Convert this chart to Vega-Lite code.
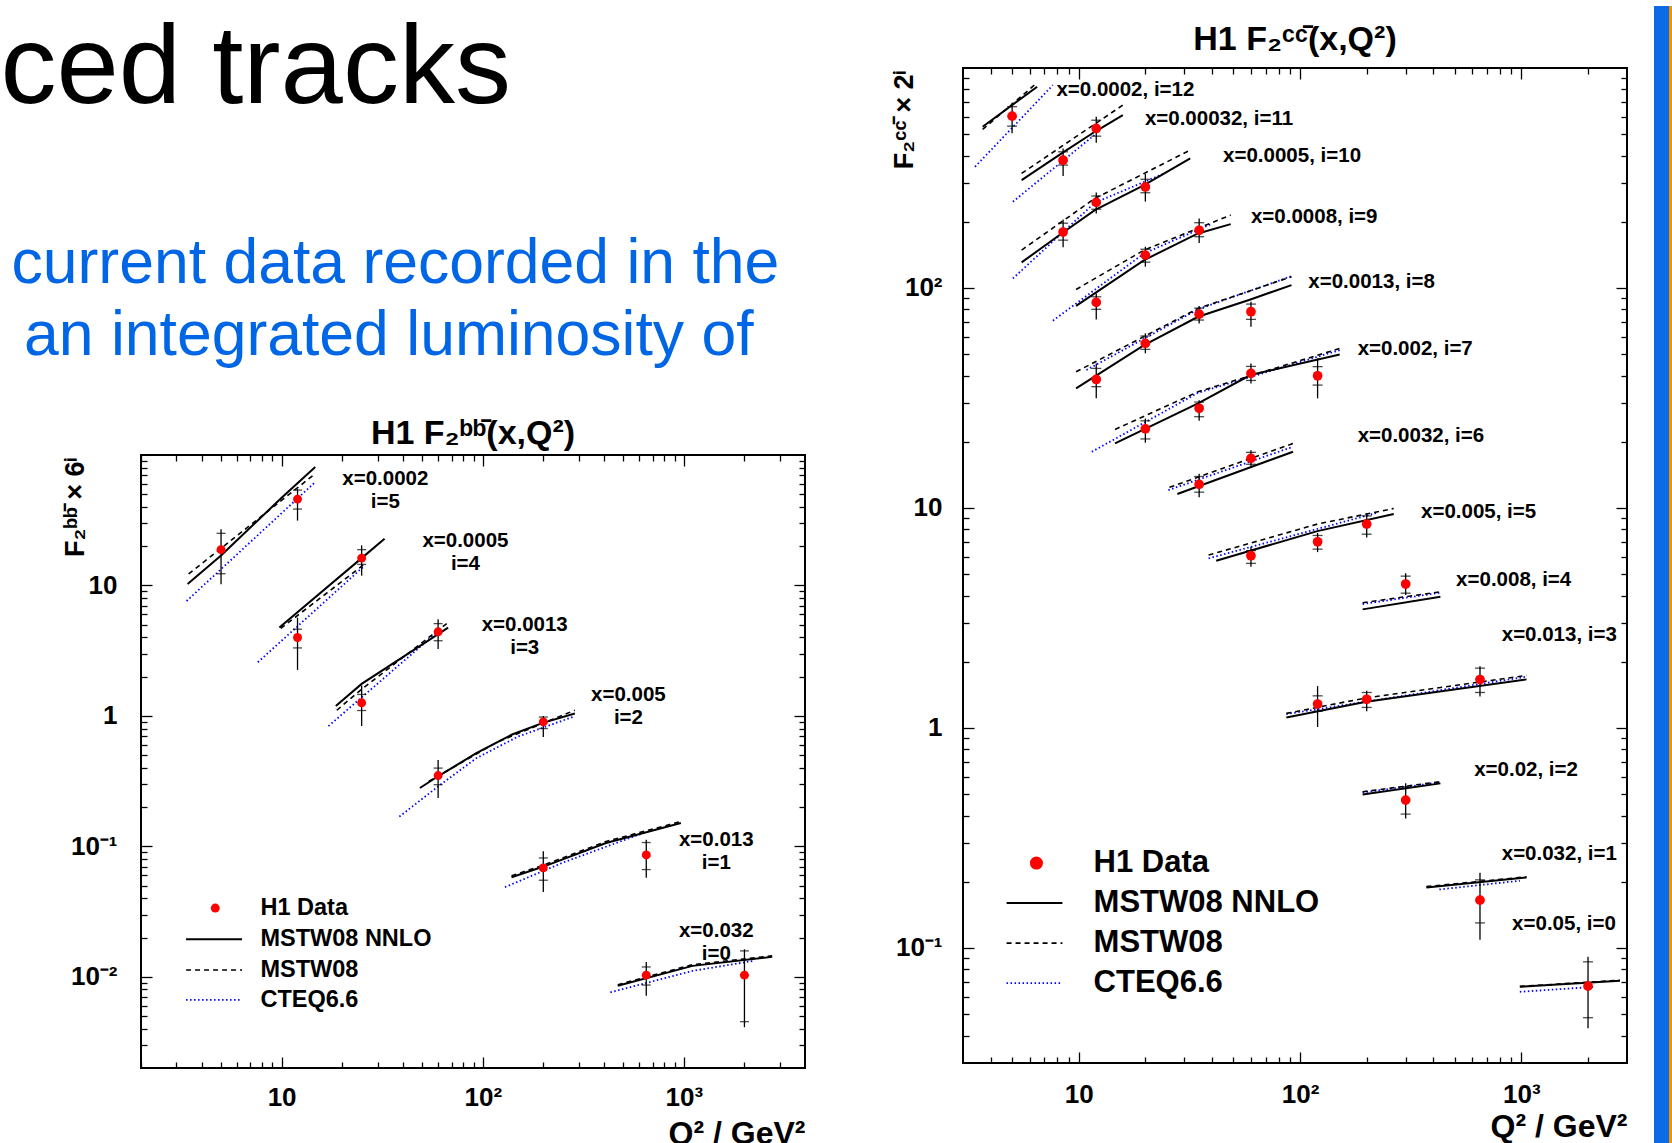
{
"$schema": "https://vega.github.io/schema/vega-lite/v6.json",
"padding": 0,
"background": "white",
"spacing": 82,
"config": {
  "font": "Liberation Sans",
  "view": {"stroke": "black", "strokeWidth": 2},
  "axis": {"domain": false, "grid": false, "tickColor": "black", "tickWidth": 1.3, "labelColor": "black", "labelFont": "Liberation Sans", "labelFontWeight": "bold", "labelFontSize": 26, "titleFont": "Liberation Sans", "titleFontWeight": "bold", "titleColor": "black", "labelOverlap": false, "labelFlush": false},
  "title": {"font": "Liberation Sans", "fontWeight": "bold", "color": "black"}
},
"datasets": {
  "bbPts": [
    {"i":5,"q":5,"v":18.8,"lo":10.2,"hi":27,"slo":12.3,"shi":25.1},
    {"i":5,"q":12,"v":45.9,"lo":31.4,"hi":54.7,"slo":38.5,"shi":53.8},
    {"i":4,"q":12,"v":3.99,"lo":2.25,"hi":5.66,"slo":3.32,"shi":4.62},
    {"i":4,"q":25,"v":16.2,"lo":11.9,"hi":20.3,"slo":14.5,"shi":18.8},
    {"i":3,"q":25,"v":1.26,"lo":0.836,"hi":1.71,"slo":1.10,"shi":1.46},
    {"i":3,"q":60,"v":4.41,"lo":3.26,"hi":5.51,"slo":3.77,"shi":5.1},
    {"i":2,"q":60,"v":0.349,"lo":0.235,"hi":0.46,"slo":0.297,"shi":0.398},
    {"i":2,"q":200,"v":0.90,"lo":0.69,"hi":1.0,"slo":0.80,"shi":0.98},
    {"i":1,"q":200,"v":0.0684,"lo":0.0446,"hi":0.0916,"slo":0.055,"shi":0.0815},
    {"i":1,"q":650,"v":0.086,"lo":0.0574,"hi":0.1125,"slo":0.0664,"shi":0.107},
    {"i":0,"q":650,"v":0.0103,"lo":0.00716,"hi":0.013,"slo":0.00865,"shi":0.0119},
    {"i":0,"q":2000,"v":0.0103,"lo":0.00411,"hi":0.01625,"slo":0.00453,"shi":0.0158}
  ],
  "bbCurves": [
    {"i":5,"m":"N","q":3.41,"v":10.28},{"i":5,"m":"N","q":5,"v":17.0},{"i":5,"m":"N","q":10,"v":47},{"i":5,"m":"N","q":14.7,"v":80.9},
    {"i":5,"m":"M","q":3.45,"v":12.25},{"i":5,"m":"M","q":14.7,"v":71.9},
    {"i":5,"m":"C","q":3.37,"v":7.6},{"i":5,"m":"C","q":14.7,"v":62},
    {"i":4,"m":"N","q":9.75,"v":4.76},{"i":4,"m":"N","q":25,"v":16.2},{"i":4,"m":"N","q":32.5,"v":22.8},
    {"i":4,"m":"M","q":9.9,"v":4.68},{"i":4,"m":"M","q":26.2,"v":14.85},
    {"i":4,"m":"C","q":7.62,"v":2.58},{"i":4,"m":"C","q":25.6,"v":14.0},
    {"i":3,"m":"N","q":18.6,"v":1.19},{"i":3,"m":"N","q":25,"v":1.76},{"i":3,"m":"N","q":67.3,"v":4.75},
    {"i":3,"m":"M","q":18.8,"v":1.105},{"i":3,"m":"M","q":25,"v":1.6},{"i":3,"m":"M","q":68.2,"v":5.28},
    {"i":3,"m":"C","q":17.1,"v":0.836},{"i":3,"m":"C","q":61,"v":4.55},
    {"i":2,"m":"N","q":48.7,"v":0.28},{"i":2,"m":"N","q":59.7,"v":0.343},{"i":2,"m":"N","q":92.9,"v":0.518},{"i":2,"m":"N","q":140,"v":0.72},{"i":2,"m":"N","q":199,"v":0.885},{"i":2,"m":"N","q":287,"v":1.043},
    {"i":2,"m":"M","q":53.8,"v":0.315},{"i":2,"m":"M","q":119,"v":0.634},{"i":2,"m":"M","q":287,"v":1.105},
    {"i":2,"m":"C","q":38.5,"v":0.169},{"i":2,"m":"C","q":60,"v":0.288},{"i":2,"m":"C","q":92.9,"v":0.474},{"i":2,"m":"C","q":150,"v":0.695},{"i":2,"m":"C","q":287,"v":0.995},
    {"i":1,"m":"N","q":139,"v":0.058},{"i":1,"m":"N","q":199,"v":0.0697},{"i":1,"m":"N","q":410,"v":0.106},{"i":1,"m":"N","q":966,"v":0.151},
    {"i":1,"m":"M","q":139,"v":0.0595},{"i":1,"m":"M","q":199,"v":0.0715},{"i":1,"m":"M","q":410,"v":0.109},{"i":1,"m":"M","q":966,"v":0.155},
    {"i":1,"m":"C","q":129,"v":0.0487},{"i":1,"m":"C","q":250,"v":0.075},{"i":1,"m":"C","q":640,"v":0.128},
    {"i":0,"m":"N","q":469,"v":0.00853},{"i":0,"m":"N","q":1104,"v":0.01213},{"i":0,"m":"N","q":2748,"v":0.01422},
    {"i":0,"m":"M","q":469,"v":0.0087},{"i":0,"m":"M","q":1104,"v":0.0124},{"i":0,"m":"M","q":2748,"v":0.0145},
    {"i":0,"m":"C","q":431,"v":0.0076},{"i":0,"m":"C","q":1104,"v":0.0111},{"i":0,"m":"C","q":2208,"v":0.01324}
  ],
  "bbLab": [
    {"t":"x=0.0002\ni=5","q":32.8,"v":65.9},
    {"t":"x=0.0005\ni=4","q":82,"v":22.0},
    {"t":"x=0.0013\ni=3","q":161.7,"v":4.99},
    {"t":"x=0.005\ni=2","q":530,"v":1.44},
    {"t":"x=0.013\ni=1","q":1449,"v":0.1125},
    {"t":"x=0.032\ni=0","q":1449,"v":0.02244}
  ],
  "bbLeg": [
    {"t":"H1 Data","k":"D","v":0.03365},
    {"t":"MSTW08 NNLO","k":"N","v":0.01941},
    {"t":"MSTW08","k":"M","v":0.01127},
    {"t":"CTEQ6.6","k":"C","v":0.006653}
  ],
  "ccPts": [
    {"i":12,"q":5,"v":604,"lo":505,"hi":695,"slo":544,"shi":667},
    {"i":11,"q":8.5,"v":381,"lo":323,"hi":431,"slo":362,"shi":416},
    {"i":11,"q":12,"v":531,"lo":457,"hi":600,"slo":490,"shi":579},
    {"i":10,"q":8.5,"v":179.6,"lo":153,"hi":205,"slo":165,"shi":197},
    {"i":10,"q":12,"v":245,"lo":218,"hi":272,"slo":228,"shi":262},
    {"i":10,"q":20,"v":288,"lo":247,"hi":330,"slo":271,"shi":312},
    {"i":9,"q":12,"v":86,"lo":72,"hi":94.5,"slo":80,"shi":91.2},
    {"i":9,"q":20,"v":141,"lo":125,"hi":154,"slo":131,"shi":150},
    {"i":9,"q":35,"v":183,"lo":160,"hi":207,"slo":171,"shi":198},
    {"i":8,"q":12,"v":38.4,"lo":31.5,"hi":45.4,"slo":35.6,"shi":43.1},
    {"i":8,"q":20,"v":56,"lo":50.5,"hi":62.2,"slo":52.6,"shi":60.5},
    {"i":8,"q":35,"v":76,"lo":69,"hi":82.8,"slo":71.5,"shi":81},
    {"i":8,"q":60,"v":78,"lo":66.7,"hi":86.5,"slo":72,"shi":84.5},
    {"i":7,"q":20,"v":22.9,"lo":19.8,"hi":25.5,"slo":20.6,"shi":24.9},
    {"i":7,"q":35,"v":28.4,"lo":24.9,"hi":30.9,"slo":26,"shi":30.3},
    {"i":7,"q":60,"v":40.9,"lo":36.8,"hi":45.4,"slo":38,"shi":44},
    {"i":7,"q":120,"v":39.9,"lo":31.5,"hi":47.9,"slo":36.2,"shi":43.9},
    {"i":6,"q":35,"v":12.8,"lo":11.2,"hi":14.3,"slo":11.8,"shi":13.9},
    {"i":6,"q":60,"v":16.8,"lo":15.4,"hi":18.3,"slo":15.8,"shi":17.9},
    {"i":5,"q":60,"v":6.07,"lo":5.4,"hi":6.67,"slo":5.6,"shi":6.4},
    {"i":5,"q":120,"v":7.02,"lo":6.3,"hi":7.7,"slo":6.5,"shi":7.5},
    {"i":5,"q":200,"v":8.45,"lo":7.34,"hi":9.44,"slo":7.6,"shi":9.2},
    {"i":4,"q":300,"v":4.51,"lo":4.02,"hi":5.05,"slo":4.1,"shi":4.9},
    {"i":3,"q":120,"v":1.285,"lo":1.01,"hi":1.55,"slo":1.19,"shi":1.40},
    {"i":3,"q":200,"v":1.35,"lo":1.19,"hi":1.475,"slo":1.24,"shi":1.45},
    {"i":3,"q":650,"v":1.66,"lo":1.39,"hi":1.91,"slo":1.45,"shi":1.87},
    {"i":2,"q":300,"v":0.47,"lo":0.388,"hi":0.56,"slo":0.406,"shi":0.54},
    {"i":1,"q":650,"v":0.165,"lo":0.109,"hi":0.22,"slo":0.13,"shi":0.204},
    {"i":0,"q":2000,"v":0.0671,"lo":0.0432,"hi":0.0912,"slo":0.0482,"shi":0.0865}
  ],
  "ccCurves": [
    {"i":12,"m":"N","q":3.68,"v":540.7},{"i":12,"m":"N","q":6.49,"v":821.7},
    {"i":12,"m":"M","q":3.68,"v":525.6},{"i":12,"m":"M","q":6.49,"v":857},
    {"i":12,"m":"C","q":3.40,"v":355.6},{"i":12,"m":"C","q":7.64,"v":836},
    {"i":11,"m":"N","q":5.52,"v":309.4},{"i":11,"m":"N","q":8.37,"v":408.9},{"i":11,"m":"N","q":11.82,"v":513},{"i":11,"m":"N","q":15.82,"v":610.8},
    {"i":11,"m":"M","q":5.52,"v":331.7},{"i":11,"m":"M","q":15.82,"v":678},
    {"i":11,"m":"C","q":5.04,"v":246.6},{"i":11,"m":"C","q":11.76,"v":495.5},
    {"i":10,"m":"N","q":5.52,"v":130.7},{"i":10,"m":"N","q":8.37,"v":177},{"i":10,"m":"N","q":11.82,"v":225.9},{"i":10,"m":"N","q":19.74,"v":293.6},{"i":10,"m":"N","q":31.9,"v":388},
    {"i":10,"m":"M","q":5.52,"v":148.7},{"i":10,"m":"M","q":11.82,"v":255.3},{"i":10,"m":"M","q":31.9,"v":423.5},
    {"i":10,"m":"C","q":5.04,"v":110.5},{"i":10,"m":"C","q":11.82,"v":244},{"i":10,"m":"C","q":24.37,"v":331.7},
    {"i":9,"m":"N","q":9.73,"v":83.0},{"i":9,"m":"N","q":19.74,"v":133.9},{"i":9,"m":"N","q":34.6,"v":177},{"i":9,"m":"N","q":48.6,"v":195.2},
    {"i":9,"m":"M","q":9.73,"v":98.5},{"i":9,"m":"M","q":19.74,"v":148.7},{"i":9,"m":"M","q":48.6,"v":214.5},
    {"i":9,"m":"C","q":7.64,"v":71},{"i":9,"m":"C","q":19.74,"v":143.6},{"i":9,"m":"C","q":39.6,"v":195.2},
    {"i":8,"m":"N","q":9.73,"v":34.96},{"i":8,"m":"N","q":19.74,"v":55.0},{"i":8,"m":"N","q":34.6,"v":74},{"i":8,"m":"N","q":59.7,"v":88.7},{"i":8,"m":"N","q":91.5,"v":103.1},
    {"i":8,"m":"M","q":9.73,"v":41.6},{"i":8,"m":"M","q":34.6,"v":80.7},{"i":8,"m":"M","q":91.5,"v":112.5},
    {"i":8,"m":"C","q":10.84,"v":42.4},{"i":8,"m":"C","q":34.6,"v":80},{"i":8,"m":"C","q":91.5,"v":113.2},
    {"i":7,"m":"N","q":14.59,"v":19.66},{"i":7,"m":"N","q":34.6,"v":29.9},{"i":7,"m":"N","q":59.7,"v":40.2},{"i":7,"m":"N","q":151,"v":49.9},
    {"i":7,"m":"M","q":14.59,"v":22.76},{"i":7,"m":"M","q":34.6,"v":33.76},{"i":7,"m":"M","q":151,"v":53.1},
    {"i":7,"m":"C","q":11.45,"v":18.0},{"i":7,"m":"C","q":34.6,"v":33.4},{"i":7,"m":"C","q":151,"v":52.2},
    {"i":6,"m":"N","q":27.9,"v":11.57},{"i":6,"m":"N","q":92.96,"v":18.02},
    {"i":6,"m":"M","q":25.7,"v":12.41},{"i":6,"m":"M","q":92.96,"v":19.66},
    {"i":6,"m":"C","q":25.4,"v":12.06},{"i":6,"m":"C","q":92.96,"v":18.98},
    {"i":5,"m":"N","q":41.8,"v":5.76},{"i":5,"m":"N","q":119.8,"v":7.85},{"i":5,"m":"N","q":265,"v":9.38},
    {"i":5,"m":"M","q":38.6,"v":6.11},{"i":5,"m":"M","q":119.8,"v":8.45},{"i":5,"m":"M","q":265,"v":9.95},
    {"i":5,"m":"C","q":38.6,"v":5.9},{"i":5,"m":"C","q":223,"v":9.51},
    {"i":4,"m":"N","q":191.7,"v":3.46},{"i":4,"m":"N","q":430.7,"v":3.95},
    {"i":4,"m":"M","q":191.7,"v":3.71},{"i":4,"m":"M","q":430.7,"v":4.16},
    {"i":4,"m":"C","q":191.7,"v":3.66},{"i":4,"m":"C","q":430.7,"v":4.12},
    {"i":3,"m":"N","q":86.7,"v":1.117},{"i":3,"m":"N","q":199,"v":1.316},{"i":3,"m":"N","q":1055,"v":1.663},
    {"i":3,"m":"M","q":86.7,"v":1.165},{"i":3,"m":"M","q":199,"v":1.37},{"i":3,"m":"M","q":1055,"v":1.734},
    {"i":3,"m":"C","q":86.7,"v":1.157},{"i":3,"m":"C","q":1055,"v":1.71},
    {"i":2,"m":"N","q":191.7,"v":0.499},{"i":2,"m":"N","q":430.7,"v":0.56},
    {"i":2,"m":"M","q":191.7,"v":0.513},{"i":2,"m":"M","q":430.7,"v":0.57},
    {"i":2,"m":"C","q":191.7,"v":0.509},{"i":2,"m":"C","q":430.7,"v":0.566},
    {"i":1,"m":"N","q":372.3,"v":0.1885},{"i":1,"m":"N","q":1055,"v":0.2093},
    {"i":1,"m":"M","q":372.3,"v":0.19},{"i":1,"m":"M","q":1055,"v":0.2107},
    {"i":1,"m":"C","q":426,"v":0.1845},{"i":1,"m":"C","q":984,"v":0.2021},
    {"i":0,"m":"N","q":984,"v":0.0666},{"i":0,"m":"N","q":2790,"v":0.071},
    {"i":0,"m":"M","q":984,"v":0.0669},{"i":0,"m":"M","q":2790,"v":0.0713},
    {"i":0,"m":"C","q":984,"v":0.0632},{"i":0,"m":"C","q":2152,"v":0.0666}
  ],
  "ccLab": [
    {"t":"x=0.0002, i=12","q":7.93,"v":794},
    {"t":"x=0.00032, i=11","q":19.9,"v":584},
    {"t":"x=0.0005, i=10","q":44.9,"v":398},
    {"t":"x=0.0008, i=9","q":60,"v":211},
    {"t":"x=0.0013, i=8","q":109,"v":106},
    {"t":"x=0.002, i=7","q":182,"v":53},
    {"t":"x=0.0032, i=6","q":182,"v":21.2},
    {"t":"x=0.005, i=5","q":352,"v":9.55},
    {"t":"x=0.008, i=4","q":507,"v":4.73},
    {"t":"x=0.013, i=3","q":815,"v":2.66},
    {"t":"x=0.02, i=2","q":612,"v":0.644},
    {"t":"x=0.032, i=1","q":815,"v":0.267},
    {"t":"x=0.05, i=0","q":908,"v":0.128}
  ],
  "ccLeg": [
    {"t":"H1 Data","k":"D","v":0.2432},
    {"t":"MSTW08 NNLO","k":"N","v":0.16},
    {"t":"MSTW08","k":"M","v":0.1052},
    {"t":"CTEQ6.6","k":"C","v":0.0692}
  ]
},
"hconcat": [
  {
    "spacing": 30,
    "vconcat": [
      {
        "width": 664, "height": 380,
        "view": {"stroke": null},
        "data": {"values": [{}]},
        "mark": {"type": "text", "text": ""},
        "encoding": {
          "x": {"datum": 0.5, "type": "quantitative", "scale": {"domain": [0, 1]},
                "axis": {"orient": "top", "ticks": false, "labels": false, "domain": false, "grid": false,
                         "title": ["current data recorded in the", "\u200b\u2009an integrated luminosity of"],
                         "titleX": -130, "titleY": 276, "titleAlign": "left", "titleBaseline": "alphabetic", "titleAngle": 0,
                         "titleFont": "Liberation Sans", "titleFontWeight": "normal", "titleFontSize": 62.5, "titleColor": "#0066e6", "titleLineHeight": 72}},
          "y": {"datum": 0.5, "type": "quantitative", "scale": {"domain": [0, 1]},
                "axis": {"orient": "left", "ticks": false, "labels": false, "domain": false, "grid": false,
                         "title": "ced tracks",
                         "titleX": -141, "titleY": 96, "titleAlign": "left", "titleBaseline": "alphabetic", "titleAngle": 0,
                         "titleFont": "Liberation Sans", "titleFontWeight": "normal", "titleFontSize": 112, "titleColor": "black"}}
        }
      },
      {
        "width": 664, "height": 613,
        "title": {"text": "H1 F₂ᵇᵇ̄(x,Q²)", "fontSize": 34, "offset": 3},
        "resolve": {"axis": {"x": "independent", "y": "independent"}},
        "layer": [
          {"data": {"name": "bbCurves"}, "transform": [{"filter": "datum.m == 'C'"}],
           "mark": {"type": "line", "color": "#0000ff", "strokeWidth": 1.8, "strokeDash": [1.5, 2.5]},
           "encoding": {
             "x": {"field": "q", "type": "quantitative", "scale": {"type": "log", "domain": [2, 4000], "nice": false},
                   "axis": {"orient": "bottom", "values": [10, 100, 1000], "tickSize": -11, "labelPadding": 27, "labelExpr": "datum.value < 50 ? '10' : datum.value < 500 ? '10²' : '10³'", "title": "Q² / GeV²", "titleX": 664, "titleY": 75, "titleAlign": "right", "titleBaseline": "alphabetic", "titleAngle": 0, "titleFontSize": 32}},
             "y": {"field": "v", "type": "quantitative", "scale": {"type": "log", "domain": [0.002, 100], "nice": false},
                   "axis": {"orient": "left", "values": [0.01, 0.1, 1, 10], "tickSize": -11, "labelPadding": 35, "labelExpr": "datum.value < 0.05 ? '10⁻²' : datum.value < 0.5 ? '10⁻¹' : datum.value < 5 ? '1' : '10'", "title": "F₂ᵇᵇ̄ × 6ⁱ", "titleX": -66, "titleY": 1, "titleAngle": -90, "titleAlign": "right", "titleBaseline": "middle", "titleFontSize": 27}},
             "detail": {"field": "i", "type": "nominal"}}},
          {"data": {"name": "bbCurves"}, "transform": [{"filter": "datum.m == 'M'"}],
           "mark": {"type": "line", "color": "black", "strokeWidth": 1.6, "strokeDash": [5, 4]},
           "encoding": {
             "x": {"field": "q", "type": "quantitative", "scale": {"type": "log", "domain": [2, 4000], "nice": false},
                   "axis": {"orient": "bottom", "values": [2,3,4,5,6,7,8,9,20,30,40,50,60,70,80,90,200,300,400,500,600,700,800,900,2000,3000], "tickSize": -6, "labels": false, "title": null}},
             "y": {"field": "v", "type": "quantitative", "scale": {"type": "log", "domain": [0.002, 100], "nice": false},
                   "axis": {"orient": "left", "values": [0.003,0.004,0.005,0.006,0.007,0.008,0.009,0.02,0.03,0.04,0.05,0.06,0.07,0.08,0.09,0.2,0.3,0.4,0.5,0.6,0.7,0.8,0.9,2,3,4,5,6,7,8,9,20,30,40,50,60,70,80,90], "tickSize": -6, "labels": false, "title": null}},
             "detail": {"field": "i", "type": "nominal"}}},
          {"data": {"name": "bbCurves"}, "transform": [{"filter": "datum.m == 'N'"}],
           "mark": {"type": "line", "color": "black", "strokeWidth": 2},
           "encoding": {
             "x": {"field": "q", "type": "quantitative", "scale": {"type": "log", "domain": [2, 4000], "nice": false},
                   "axis": {"orient": "top", "values": [10, 100, 1000], "tickSize": -11, "labels": false, "title": null}},
             "y": {"field": "v", "type": "quantitative", "scale": {"type": "log", "domain": [0.002, 100], "nice": false},
                   "axis": {"orient": "right", "values": [0.01, 0.1, 1, 10], "tickSize": -11, "labels": false, "title": null}},
             "detail": {"field": "i", "type": "nominal"}}},
          {"data": {"name": "bbPts"},
           "mark": {"type": "rule", "color": "black", "strokeWidth": 1.3},
           "encoding": {
             "x": {"field": "q", "type": "quantitative", "scale": {"type": "log", "domain": [2, 4000], "nice": false},
                   "axis": {"orient": "top", "values": [2,3,4,5,6,7,8,9,20,30,40,50,60,70,80,90,200,300,400,500,600,700,800,900,2000,3000], "tickSize": -6, "labels": false, "title": null}},
             "y": {"field": "lo", "type": "quantitative", "scale": {"type": "log", "domain": [0.002, 100], "nice": false},
                   "axis": {"orient": "right", "values": [0.003,0.004,0.005,0.006,0.007,0.008,0.009,0.02,0.03,0.04,0.05,0.06,0.07,0.08,0.09,0.2,0.3,0.4,0.5,0.6,0.7,0.8,0.9,2,3,4,5,6,7,8,9,20,30,40,50,60,70,80,90], "tickSize": -6, "labels": false, "title": null}},
             "y2": {"field": "hi"}}},
          {"data": {"name": "bbPts"},
           "mark": {"type": "tick", "orient": "horizontal", "color": "black", "size": 9, "thickness": 1.3},
           "encoding": {
             "x": {"field": "q", "type": "quantitative", "scale": {"type": "log", "domain": [2, 4000], "nice": false}, "axis": null},
             "y": {"field": "slo", "type": "quantitative", "scale": {"type": "log", "domain": [0.002, 100], "nice": false}, "axis": null}}},
          {"data": {"name": "bbPts"},
           "mark": {"type": "tick", "orient": "horizontal", "color": "black", "size": 9, "thickness": 1.3},
           "encoding": {
             "x": {"field": "q", "type": "quantitative", "scale": {"type": "log", "domain": [2, 4000], "nice": false}, "axis": null},
             "y": {"field": "shi", "type": "quantitative", "scale": {"type": "log", "domain": [0.002, 100], "nice": false}, "axis": null}}},
          {"data": {"name": "bbPts"},
           "mark": {"type": "circle", "color": "#ff0000", "size": 80, "opacity": 1},
           "encoding": {
             "x": {"field": "q", "type": "quantitative", "scale": {"type": "log", "domain": [2, 4000], "nice": false}, "axis": null},
             "y": {"field": "v", "type": "quantitative", "scale": {"type": "log", "domain": [0.002, 100], "nice": false}, "axis": null}}},
          {"data": {"name": "bbLab"},
           "mark": {"type": "text", "font": "Liberation Sans", "fontWeight": "bold", "fontSize": 20.5, "align": "center", "baseline": "middle", "lineBreak": "\n", "lineHeight": 23, "color": "black"},
           "encoding": {
             "x": {"field": "q", "type": "quantitative", "scale": {"type": "log", "domain": [2, 4000], "nice": false}, "axis": null},
             "y": {"field": "v", "type": "quantitative", "scale": {"type": "log", "domain": [0.002, 100], "nice": false}, "axis": null},
             "text": {"field": "t"}}},
          {"data": {"name": "bbLeg"},
           "mark": {"type": "text", "font": "Liberation Sans", "fontWeight": "bold", "fontSize": 23.5, "align": "left", "baseline": "middle", "color": "black"},
           "encoding": {
             "x": {"datum": 7.85, "type": "quantitative", "scale": {"type": "log", "domain": [2, 4000], "nice": false}, "axis": null},
             "y": {"field": "v", "type": "quantitative", "scale": {"type": "log", "domain": [0.002, 100], "nice": false}, "axis": null},
             "text": {"field": "t"}}},
          {"data": {"name": "bbLeg"}, "transform": [{"filter": "datum.k == 'D'"}],
           "mark": {"type": "circle", "color": "#ff0000", "size": 80, "opacity": 1},
           "encoding": {
             "x": {"datum": 4.68, "type": "quantitative", "scale": {"type": "log", "domain": [2, 4000], "nice": false}, "axis": null},
             "y": {"field": "v", "type": "quantitative", "scale": {"type": "log", "domain": [0.002, 100], "nice": false}, "axis": null}}},
          {"data": {"name": "bbLeg"}, "transform": [{"filter": "datum.k == 'N'"}],
           "mark": {"type": "rule", "color": "black", "strokeWidth": 2},
           "encoding": {
             "x": {"datum": 3.35, "type": "quantitative", "scale": {"type": "log", "domain": [2, 4000], "nice": false}, "axis": null},
             "x2": {"datum": 6.36},
             "y": {"field": "v", "type": "quantitative", "scale": {"type": "log", "domain": [0.002, 100], "nice": false}, "axis": null}}},
          {"data": {"name": "bbLeg"}, "transform": [{"filter": "datum.k == 'M'"}],
           "mark": {"type": "rule", "color": "black", "strokeWidth": 1.6, "strokeDash": [5, 4]},
           "encoding": {
             "x": {"datum": 3.35, "type": "quantitative", "scale": {"type": "log", "domain": [2, 4000], "nice": false}, "axis": null},
             "x2": {"datum": 6.36},
             "y": {"field": "v", "type": "quantitative", "scale": {"type": "log", "domain": [0.002, 100], "nice": false}, "axis": null}}},
          {"data": {"name": "bbLeg"}, "transform": [{"filter": "datum.k == 'C'"}],
           "mark": {"type": "rule", "color": "#0000ff", "strokeWidth": 1.8, "strokeDash": [1.5, 2.5]},
           "encoding": {
             "x": {"datum": 3.35, "type": "quantitative", "scale": {"type": "log", "domain": [2, 4000], "nice": false}, "axis": null},
             "x2": {"datum": 6.36},
             "y": {"field": "v", "type": "quantitative", "scale": {"type": "log", "domain": [0.002, 100], "nice": false}, "axis": null}}}
        ]
      }
    ]
  },
  {
    "spacing": 25,
    "hconcat": [
      {
        "spacing": 10,
        "vconcat": [
          {"width": 664, "height": 1, "view": {"stroke": null}, "data": {"values": [{}]}, "mark": {"type": "text", "text": ""}},
          {
            "width": 664, "height": 995,
            "title": {"text": "H1 F₂ᶜᶜ̄(x,Q²)", "fontSize": 34, "offset": 10},
            "resolve": {"axis": {"x": "independent", "y": "independent"}},
            "layer": [
              {"data": {"name": "ccCurves"}, "transform": [{"filter": "datum.m == 'C'"}],
               "mark": {"type": "line", "color": "#0000ff", "strokeWidth": 1.8, "strokeDash": [1.5, 2.5]},
               "encoding": {
                 "x": {"field": "q", "type": "quantitative", "scale": {"type": "log", "domain": [3, 3000], "nice": false},
                       "axis": {"orient": "bottom", "values": [10, 100, 1000], "tickSize": -11, "labelPadding": 29, "labelExpr": "datum.value < 50 ? '10' : datum.value < 500 ? '10²' : '10³'", "title": "Q² / GeV²", "titleX": 664, "titleY": 73, "titleAlign": "right", "titleBaseline": "alphabetic", "titleAngle": 0, "titleFontSize": 32}},
                 "y": {"field": "v", "type": "quantitative", "scale": {"type": "log", "domain": [0.03, 1000], "nice": false},
                       "axis": {"orient": "left", "values": [0.1, 1, 10, 100], "tickSize": -11, "labelPadding": 32, "labelExpr": "datum.value < 0.5 ? '10⁻¹' : datum.value < 5 ? '1' : datum.value < 50 ? '10' : '10²'", "title": "F₂ᶜᶜ̄ × 2ⁱ", "titleX": -59, "titleY": 1, "titleAngle": -90, "titleAlign": "right", "titleBaseline": "middle", "titleFontSize": 27}},
                 "detail": {"field": "i", "type": "nominal"}}},
              {"data": {"name": "ccCurves"}, "transform": [{"filter": "datum.m == 'M'"}],
               "mark": {"type": "line", "color": "black", "strokeWidth": 1.6, "strokeDash": [5, 4]},
               "encoding": {
                 "x": {"field": "q", "type": "quantitative", "scale": {"type": "log", "domain": [3, 3000], "nice": false},
                       "axis": {"orient": "bottom", "values": [4,5,6,7,8,9,20,30,40,50,60,70,80,90,200,300,400,500,600,700,800,900,2000], "tickSize": -6, "labels": false, "title": null}},
                 "y": {"field": "v", "type": "quantitative", "scale": {"type": "log", "domain": [0.03, 1000], "nice": false},
                       "axis": {"orient": "left", "values": [0.04,0.05,0.06,0.07,0.08,0.09,0.2,0.3,0.4,0.5,0.6,0.7,0.8,0.9,2,3,4,5,6,7,8,9,20,30,40,50,60,70,80,90,200,300,400,500,600,700,800,900], "tickSize": -6, "labels": false, "title": null}},
                 "detail": {"field": "i", "type": "nominal"}}},
              {"data": {"name": "ccCurves"}, "transform": [{"filter": "datum.m == 'N'"}],
               "mark": {"type": "line", "color": "black", "strokeWidth": 2},
               "encoding": {
                 "x": {"field": "q", "type": "quantitative", "scale": {"type": "log", "domain": [3, 3000], "nice": false},
                       "axis": {"orient": "top", "values": [10, 100, 1000], "tickSize": -11, "labels": false, "title": null}},
                 "y": {"field": "v", "type": "quantitative", "scale": {"type": "log", "domain": [0.03, 1000], "nice": false},
                       "axis": {"orient": "right", "values": [0.1, 1, 10, 100], "tickSize": -11, "labels": false, "title": null}},
                 "detail": {"field": "i", "type": "nominal"}}},
              {"data": {"name": "ccPts"},
               "mark": {"type": "rule", "color": "black", "strokeWidth": 1.3},
               "encoding": {
                 "x": {"field": "q", "type": "quantitative", "scale": {"type": "log", "domain": [3, 3000], "nice": false},
                       "axis": {"orient": "top", "values": [4,5,6,7,8,9,20,30,40,50,60,70,80,90,200,300,400,500,600,700,800,900,2000], "tickSize": -6, "labels": false, "title": null}},
                 "y": {"field": "lo", "type": "quantitative", "scale": {"type": "log", "domain": [0.03, 1000], "nice": false},
                       "axis": {"orient": "right", "values": [0.04,0.05,0.06,0.07,0.08,0.09,0.2,0.3,0.4,0.5,0.6,0.7,0.8,0.9,2,3,4,5,6,7,8,9,20,30,40,50,60,70,80,90,200,300,400,500,600,700,800,900], "tickSize": -6, "labels": false, "title": null}},
                 "y2": {"field": "hi"}}},
              {"data": {"name": "ccPts"},
               "mark": {"type": "tick", "orient": "horizontal", "color": "black", "size": 10, "thickness": 1.3},
               "encoding": {
                 "x": {"field": "q", "type": "quantitative", "scale": {"type": "log", "domain": [3, 3000], "nice": false}, "axis": null},
                 "y": {"field": "slo", "type": "quantitative", "scale": {"type": "log", "domain": [0.03, 1000], "nice": false}, "axis": null}}},
              {"data": {"name": "ccPts"},
               "mark": {"type": "tick", "orient": "horizontal", "color": "black", "size": 10, "thickness": 1.3},
               "encoding": {
                 "x": {"field": "q", "type": "quantitative", "scale": {"type": "log", "domain": [3, 3000], "nice": false}, "axis": null},
                 "y": {"field": "shi", "type": "quantitative", "scale": {"type": "log", "domain": [0.03, 1000], "nice": false}, "axis": null}}},
              {"data": {"name": "ccPts"},
               "mark": {"type": "circle", "color": "#ff0000", "size": 95, "opacity": 1},
               "encoding": {
                 "x": {"field": "q", "type": "quantitative", "scale": {"type": "log", "domain": [3, 3000], "nice": false}, "axis": null},
                 "y": {"field": "v", "type": "quantitative", "scale": {"type": "log", "domain": [0.03, 1000], "nice": false}, "axis": null}}},
              {"data": {"name": "ccLab"},
               "mark": {"type": "text", "font": "Liberation Sans", "fontWeight": "bold", "fontSize": 20.5, "align": "left", "baseline": "middle", "color": "black"},
               "encoding": {
                 "x": {"field": "q", "type": "quantitative", "scale": {"type": "log", "domain": [3, 3000], "nice": false}, "axis": null},
                 "y": {"field": "v", "type": "quantitative", "scale": {"type": "log", "domain": [0.03, 1000], "nice": false}, "axis": null},
                 "text": {"field": "t"}}},
              {"data": {"name": "ccLeg"},
               "mark": {"type": "text", "font": "Liberation Sans", "fontWeight": "bold", "fontSize": 31, "align": "left", "baseline": "middle", "color": "black"},
               "encoding": {
                 "x": {"datum": 11.67, "type": "quantitative", "scale": {"type": "log", "domain": [3, 3000], "nice": false}, "axis": null},
                 "y": {"field": "v", "type": "quantitative", "scale": {"type": "log", "domain": [0.03, 1000], "nice": false}, "axis": null},
                 "text": {"field": "t"}}},
              {"data": {"name": "ccLeg"}, "transform": [{"filter": "datum.k == 'D'"}],
               "mark": {"type": "circle", "color": "#ff0000", "size": 170, "opacity": 1},
               "encoding": {
                 "x": {"datum": 6.44, "type": "quantitative", "scale": {"type": "log", "domain": [3, 3000], "nice": false}, "axis": null},
                 "y": {"field": "v", "type": "quantitative", "scale": {"type": "log", "domain": [0.03, 1000], "nice": false}, "axis": null}}},
              {"data": {"name": "ccLeg"}, "transform": [{"filter": "datum.k == 'N'"}],
               "mark": {"type": "rule", "color": "black", "strokeWidth": 2},
               "encoding": {
                 "x": {"datum": 4.72, "type": "quantitative", "scale": {"type": "log", "domain": [3, 3000], "nice": false}, "axis": null},
                 "x2": {"datum": 8.44},
                 "y": {"field": "v", "type": "quantitative", "scale": {"type": "log", "domain": [0.03, 1000], "nice": false}, "axis": null}}},
              {"data": {"name": "ccLeg"}, "transform": [{"filter": "datum.k == 'M'"}],
               "mark": {"type": "rule", "color": "black", "strokeWidth": 1.6, "strokeDash": [5, 4]},
               "encoding": {
                 "x": {"datum": 4.72, "type": "quantitative", "scale": {"type": "log", "domain": [3, 3000], "nice": false}, "axis": null},
                 "x2": {"datum": 8.44},
                 "y": {"field": "v", "type": "quantitative", "scale": {"type": "log", "domain": [0.03, 1000], "nice": false}, "axis": null}}},
              {"data": {"name": "ccLeg"}, "transform": [{"filter": "datum.k == 'C'"}],
               "mark": {"type": "rule", "color": "#0000ff", "strokeWidth": 1.8, "strokeDash": [1.5, 2.5]},
               "encoding": {
                 "x": {"datum": 4.72, "type": "quantitative", "scale": {"type": "log", "domain": [3, 3000], "nice": false}, "axis": null},
                 "x2": {"datum": 8.44},
                 "y": {"field": "v", "type": "quantitative", "scale": {"type": "log", "domain": [0.03, 1000], "nice": false}, "axis": null}}}
            ]
          }
        ]
      },
      {
        "width": 20, "height": 1143,
        "view": {"stroke": null, "fill": "#0b6ae6"},
        "data": {"values": [{}]},
        "mark": {"type": "rule", "color": "#f39200", "strokeWidth": 5},
        "encoding": {
          "x": {"datum": 17.5, "type": "quantitative", "scale": {"domain": [0, 20], "nice": false, "zero": false}, "axis": null}
        }
      }
    ]
  }
]
}
